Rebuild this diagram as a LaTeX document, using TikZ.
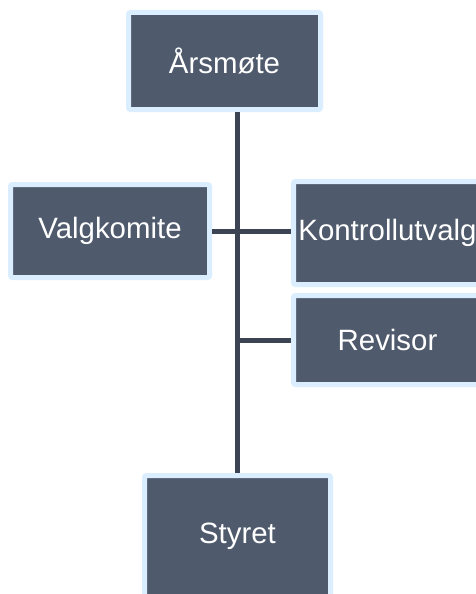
\documentclass[tikz,border=0pt]{standalone}
\usepackage{fontspec}
\setmainfont{Liberation Sans}
\definecolor{boxfill}{RGB}{79,90,109}
\definecolor{boxedge}{RGB}{218,238,255}
\definecolor{linkcol}{RGB}{60,68,84}
\tikzset{
    orgbox/.style={draw=boxedge, fill=boxfill, line width=5pt, rounded corners=2pt,
        text=white, font=\fontsize{29.4}{35}\selectfont, inner sep=0pt},
    link/.style={draw=linkcol, line width=5pt}
}
\begin{document}
\begin{tikzpicture}[x=1pt, y=1pt]
        \useasboundingbox (0, 0) rectangle (475, -594);
        \node[orgbox, minimum width=192pt, minimum height=97pt] (aarsmote) at (224.5, -61) {Årsmøte};
        \node[orgbox, minimum width=199pt, minimum height=93pt] (valgkomite) at (110, -231) {Valgkomite};
        \node[orgbox, minimum width=188pt, minimum height=103pt] (kontroll) at (387.5, -233) {Kontrollutvalg};
        \node[orgbox, minimum width=188pt, minimum height=89pt] (revisor) at (387.5, -340) {Revisor};
        \node[orgbox, minimum width=186pt, minimum height=121pt] (styret) at (237.5, -536) {Styret};
        \draw[link] (styret.north) -- (styret.north |- aarsmote.south);
        \draw[link] (valgkomite.east) -- (valgkomite.east -| kontroll.west);
        \draw[link] (revisor.west) -- (revisor.west -| styret.north);
    \end{tikzpicture}
\end{document}
